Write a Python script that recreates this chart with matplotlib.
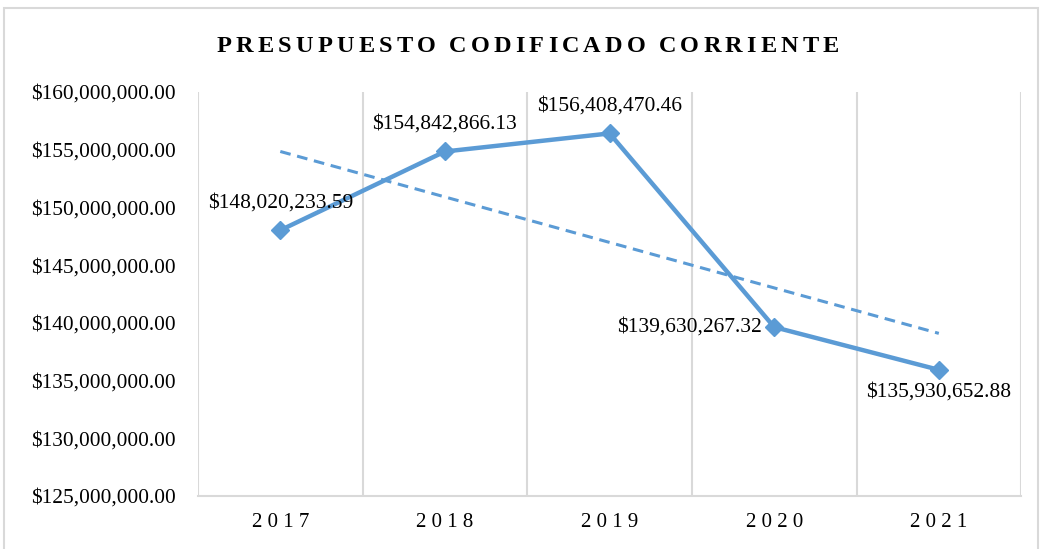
import matplotlib.pyplot as plt
import numpy as np
from matplotlib.patches import Rectangle
from matplotlib.ticker import FuncFormatter

# data
years = ['2017', '2018', '2019', '2020', '2021']
values = [148020233.59, 154842866.13, 156408470.46, 139630267.32, 135930652.88]
label_pos = ['above', 'above', 'above', 'left', 'below']
title = 'PRESUPUESTO CODIFICADO CORRIENTE'

blue = '#5B9BD5'
plt.rcParams['font.family'] = ['Liberation Serif', 'DejaVu Serif']

fig = plt.figure(figsize=(10.42, 5.49), dpi=100)
ax = fig.add_axes([0.190, 0.0965, 0.790, 0.736])

# outer chart border
fig.patches.append(Rectangle((0.004, -0.01), 0.992, 0.995, transform=fig.transFigure,
                             fill=False, edgecolor='#D9D9D9', lw=1.5))

x = np.arange(len(years))
ax.plot(x, values, color=blue, lw=3.2, marker='D', markersize=9, zorder=3)

# linear trend line
m, b = np.polyfit(x, values, 1)
ax.plot(x, m * x + b, color=blue, lw=2.2, ls=(0, (3.5, 2.2)), zorder=2)

for xi, v, pos in zip(x, values, label_pos):
    txt = '${:,.2f}'.format(v)
    if pos == 'above':
        ax.annotate(txt, (xi, v), xytext=(0, 13), textcoords='offset points',
                    ha='center', va='bottom', fontsize=15.5)
    elif pos == 'left':
        ax.annotate(txt, (xi, v), xytext=(-9, 0), textcoords='offset points',
                    ha='right', va='center', fontsize=15.5)
    else:
        ax.annotate(txt, (xi, v), xytext=(0, -9), textcoords='offset points',
                    ha='center', va='top', fontsize=15.5)

ax.set_xlim(-0.5, len(years) - 0.5)
ax.set_ylim(125000000, 160000000)
ax.set_yticks(np.arange(125000000, 160000001, 5000000))
ax.yaxis.set_major_formatter(FuncFormatter(lambda v, p: '${:,.2f}'.format(v)))
ax.set_xticks(x)
ax.set_xticklabels([' '.join(y) for y in years])

# vertical gridlines between categories
for g in np.arange(-0.5, len(years), 1.0):
    ax.axvline(g, color='#D9D9D9', lw=1.5, zorder=0)

for s in ['top', 'right', 'left']:
    ax.spines[s].set_visible(False)
ax.spines['bottom'].set_color('#D9D9D9')
ax.spines['bottom'].set_linewidth(1.5)
ax.tick_params(axis='y', length=0, pad=16, labelsize=15.4)
ax.tick_params(axis='x', length=0, pad=12, labelsize=15)

# letter-spaced title, drawn char by char
renderer = fig.canvas.get_renderer()
tsize = 17.5
spacing = 4.2  # px between letters
widths = []
for ch in title:
    t = fig.text(0, 0, ch if ch != ' ' else 'I', fontsize=tsize, fontweight='bold')
    w = t.get_window_extent(renderer).width
    t.remove()
    widths.append(w if ch != ' ' else w * 0.5)
total = sum(widths) + spacing * (len(title) - 1)
cx = 528
xpos = cx - total / 2
for ch, w in zip(title, widths):
    if ch != ' ':
        fig.text(xpos / fig.bbox.width, 0.916, ch, ha='left', va='center',
                 fontsize=tsize, fontweight='bold')
    xpos += w + spacing

fig.savefig('out.png', dpi=100)
